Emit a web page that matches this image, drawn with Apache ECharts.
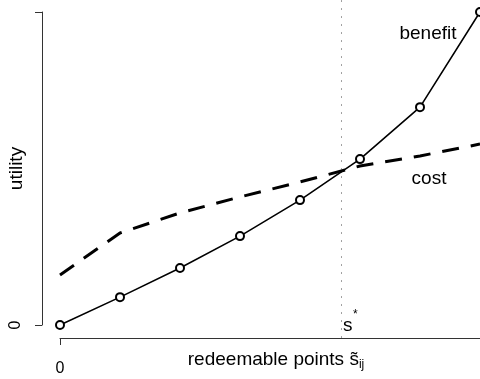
<!DOCTYPE html>
<html>
<head>
<meta charset="utf-8">
<script src="https://cdn.jsdelivr.net/npm/echarts@6/dist/echarts.min.js"></script>
<style>
  html, body { margin: 0; padding: 0; background: #fff; }
  #chart { width: 480px; height: 379px; }
</style>
</head>
<body>
<div id="chart"></div>
<script>
// Redeemable points steps and the two utility curves
const steps = [0, 1, 2, 3, 4, 5, 6, 7];
const benefit = [0, 0.89, 1.82, 2.84, 3.99, 5.30, 6.96, 10.0];
const cost = [1.60, 2.94, 3.58, 4.09, 4.57, 5.08, 5.40, 5.78];
// Break-even point s*
const sStar = 4.68;
// Axis ticks
const xTicks = [0, 8];
const xTickLabels = ['0'];
const yTicks = [0, 10];
const yTickLabels = ['0'];

const FONT = '"Liberation Sans", Arial, Helvetica, sans-serif';
const AXIS_COLOR = '#333';
const chart = echarts.init(document.getElementById('chart'), null, { renderer: 'canvas' });

const pairs = (ys) => steps.map((x, i) => [x, ys[i]]);
const hidden = (gridIndex, min, max) => ({ gridIndex, type: 'value', min, max, show: false });

chart.setOption({
  animation: false,
  backgroundColor: '#ffffff',
  grid: [
    // plotting region (padded box around the data range)
    { left: 60, width: 480, top: -0.52, height: 338.04, outerBoundsMode: 'none', containLabel: false },
    // detached left axis, spanning only its tick range
    { left: 42, width: 480, top: 12, height: 313, outerBoundsMode: 'none', containLabel: false },
    // detached bottom axis, sitting on the lower edge of the plotting box
    { left: 60, width: 480, top: 25, height: 313, outerBoundsMode: 'none', containLabel: false }
  ],
  xAxis: [
    hidden(0, 0, 8),
    hidden(1, 0, 8),
    {
      gridIndex: 2, type: 'value', min: xTicks[0], max: xTicks[1], interval: xTicks[1] - xTicks[0],
      axisLine: { show: true, lineStyle: { color: AXIS_COLOR, width: 1 } },
      axisTick: { show: true, length: 7, lineStyle: { color: AXIS_COLOR, width: 1 } },
      splitLine: { show: false },
      axisLabel: {
        margin: 23, fontFamily: FONT, fontSize: 16, color: '#000',
        formatter: (v) => (v === xTicks[0] ? xTickLabels[0] : '')
      }
    }
  ],
  yAxis: [
    hidden(0, -0.4, 10.4),
    {
      gridIndex: 1, type: 'value', min: yTicks[0], max: yTicks[1], interval: yTicks[1] - yTicks[0],
      axisLine: { show: true, lineStyle: { color: AXIS_COLOR, width: 1 } },
      axisTick: { show: true, length: 7, lineStyle: { color: AXIS_COLOR, width: 1 } },
      splitLine: { show: false },
      axisLabel: {
        margin: 18, rotate: 90, fontFamily: FONT, fontSize: 16, color: '#000',
        formatter: (v) => (v === yTicks[0] ? yTickLabels[0] : '')
      },
      name: 'utility',
      nameLocation: 'middle',
      nameRotate: 90,
      nameGap: 16,
      nameMoveOverlap: false,
      nameTextStyle: { fontFamily: FONT, fontSize: 19, color: '#000' }
    },
    hidden(2, 0, 10)
  ],
  series: [
    {
      name: 'cost',
      type: 'line',
      xAxisIndex: 0, yAxisIndex: 0,
      data: pairs(cost),
      showSymbol: false,
      symbol: 'none',
      lineStyle: { color: '#000', width: 3, type: [17, 12], cap: 'butt' },
      z: 2
    },
    {
      name: 'benefit',
      type: 'line',
      xAxisIndex: 0, yAxisIndex: 0,
      data: pairs(benefit),
      symbol: 'emptyCircle',
      symbolSize: 8,
      itemStyle: { color: '#000', borderColor: '#000', borderWidth: 1.6 },
      lineStyle: { color: '#000', width: 1.6 },
      z: 3,
      markLine: {
        silent: true,
        symbol: 'none',
        label: { show: false },
        lineStyle: { color: '#444', width: 1, type: [1, 7] },
        data: [{ xAxis: sStar }]
      }
    }
  ],
  graphic: [
    {
      type: 'text', x: 428, y: 34,
      style: { text: 'benefit', fontFamily: FONT, fontSize: 19, fill: '#000', align: 'center', verticalAlign: 'middle' }
    },
    {
      type: 'text', x: 429, y: 179,
      style: { text: 'cost', fontFamily: FONT, fontSize: 19, fill: '#000', align: 'center', verticalAlign: 'middle' }
    },
    {
      type: 'text', x: 343, y: 326,
      style: { text: 's', fontFamily: FONT, fontSize: 19, fill: '#000', align: 'left', verticalAlign: 'middle' }
    },
    {
      type: 'text', x: 353, y: 315,
      style: { text: '*', fontFamily: FONT, fontSize: 12, fill: '#000', align: 'left', verticalAlign: 'middle' }
    },
    {
      type: 'text', x: 276, y: 360,
      style: {
        text: '{m|redeemable points s\u0303}{sub|ij}',
        align: 'center', verticalAlign: 'middle',
        rich: {
          m: { fontFamily: FONT, fontSize: 19, color: '#000' },
          sub: { fontFamily: FONT, fontSize: 12, color: '#000', padding: [10, 0, 0, 0] }
        }
      }
    }
  ]
});
</script>
</body>
</html>
